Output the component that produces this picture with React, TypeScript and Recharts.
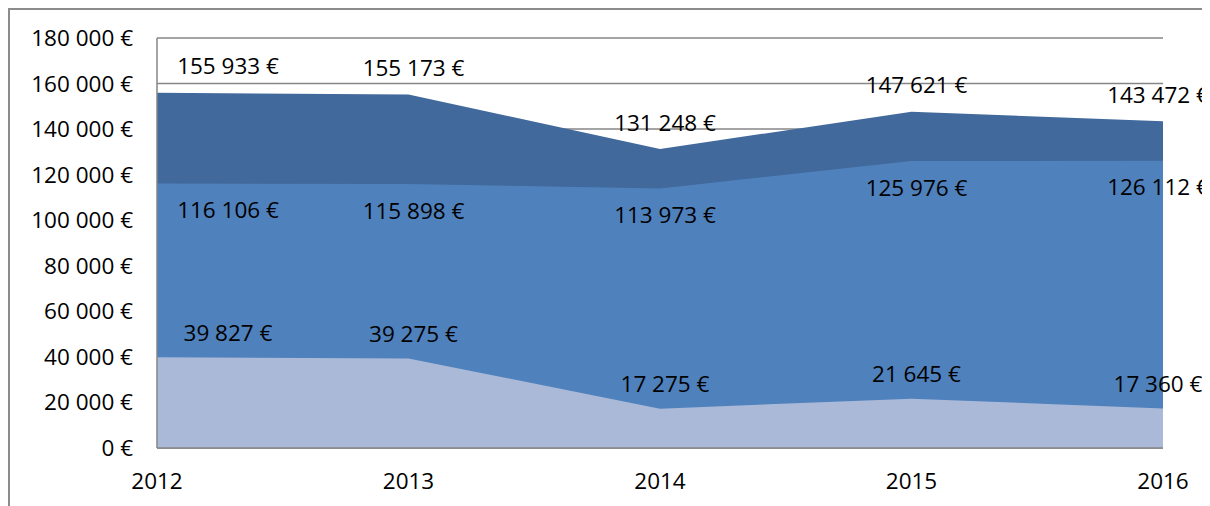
import { AreaChart, Area, XAxis, YAxis, CartesianGrid } from "recharts";

const years = ["2012", "2013", "2014", "2015", "2016"];
const totalValues = [155933, 155173, 131248, 147621, 143472];
const middleValues = [116106, 115898, 113973, 125976, 126112];
const bottomValues = [39827, 39275, 17275, 21645, 17360];
const yTicks = [0, 20000, 40000, 60000, 80000, 100000, 120000, 140000, 160000, 180000];

const data = years.map((year, i) => ({
    year,
    total: totalValues[i],
    middle: middleValues[i],
    bottom: bottomValues[i],
}));

const fmt = (v: number) => {
    const s = Math.round(v).toString().replace(/\B(?=(\d{3})+(?!\d))/g, " ");
    return s + " €";
};

const FONT = "'Open Sans', sans-serif";
const FS = 22.5;

const makeLabel = (dy: number) => (props: any) => {
    const { x, y, value } = props;
    // keep labels inside the frame like Excel does
    const lx = Math.min(Math.max(x + 5, 220), 1150);
    return (
        <text
            x={lx}
            y={y + dy}
            textAnchor="middle"
            dominantBaseline="central"
            fontFamily={FONT}
            fontSize={FS}
            fill="#000"
        >
            {fmt(value)}
        </text>
    );
};

const App = () => {
    return (
        <div
            style={{
                position: "relative",
                width: 1202,
                height: 498,
                borderLeft: "2px solid #8c8c8c",
                borderTop: "2px solid #8c8c8c",
                boxSizing: "border-box",
            }}
        >
            <div style={{ position: "absolute", left: -2, top: -2 }}>
                <AreaChart
                    width={1202}
                    height={498}
                    data={data}
                    margin={{ top: 30, right: 47, left: 0, bottom: 0 }}
                >
                    <CartesianGrid vertical={false} stroke="#868686" strokeWidth={1.5} />
                    <XAxis
                        dataKey="year"
                        axisLine={{ stroke: "#868686", strokeWidth: 1.5 }}
                        tickLine={false}
                        tickSize={0}
                        tickMargin={25}
                        height={58}
                        tick={{ fontSize: FS, fill: "#000", fontFamily: FONT }}
                    />
                    <YAxis
                        domain={[0, 180000]}
                        ticks={yTicks}
                        tickFormatter={fmt}
                        axisLine={{ stroke: "#868686", strokeWidth: 1.5 }}
                        tickLine={false}
                        tickSize={0}
                        tickMargin={24}
                        width={149}
                        tick={{ fontSize: FS, fill: "#000", fontFamily: FONT }}
                    />
                    <Area
                        dataKey="total"
                        type="linear"
                        fill="#41699b"
                        fillOpacity={1}
                        stroke="none"
                        isAnimationActive={false}
                        label={makeLabel(-27)}
                    />
                    <Area
                        dataKey="middle"
                        type="linear"
                        fill="#4f81bd"
                        fillOpacity={1}
                        stroke="none"
                        isAnimationActive={false}
                        label={makeLabel(26)}
                    />
                    <Area
                        dataKey="bottom"
                        type="linear"
                        fill="#aab9d7"
                        fillOpacity={1}
                        stroke="none"
                        isAnimationActive={false}
                        label={makeLabel(-25)}
                    />
                </AreaChart>
            </div>
        </div>
    );
};

export default App;
